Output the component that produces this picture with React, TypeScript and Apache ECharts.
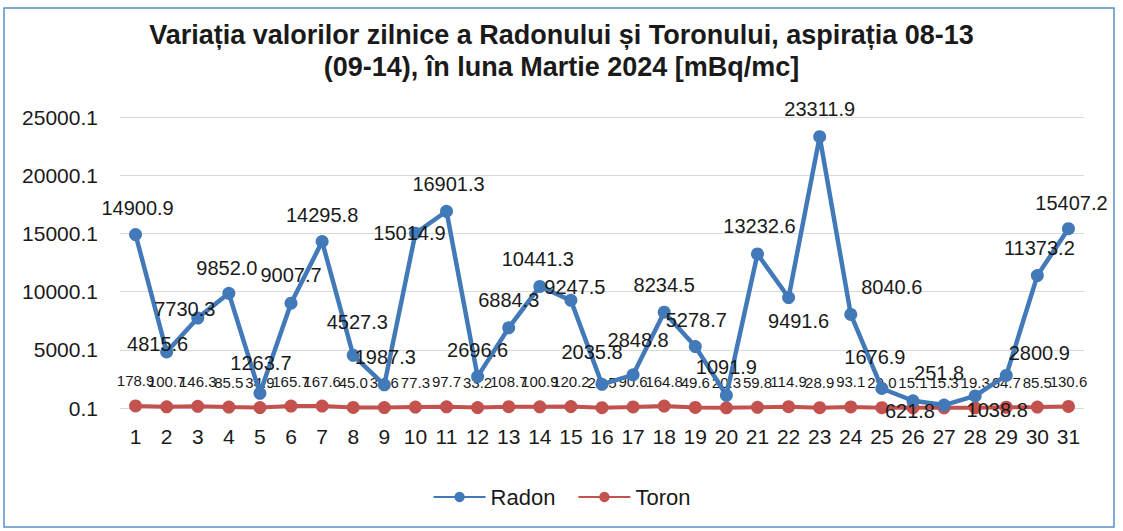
import React, { useEffect, useRef } from "react";
import * as echarts from "echarts";

const days = Array.from({ length: 31 }, (_, i) => String(i + 1));

const radon = [
  14900.9, 4815.6, 7730.3, 9852.0, 1263.7, 9007.7, 14295.8, 4527.3, 1987.3, 15014.9,
  16901.3, 2696.6, 6884.3, 10441.3, 9247.5, 2035.8, 2848.8, 8234.5, 5278.7, 1091.9,
  13232.6, 9491.6, 23311.9, 8040.6, 1676.9, 621.8, 251.8, 1038.8, 2800.9, 11373.2,
  15407.2,
];

const toron = [
  178.9, 100.7, 146.3, 85.5, 34.9, 165.7, 167.6, 45.0, 34.6, 77.3,
  97.7, 33.2, 108.7, 100.9, 120.2, 28.5, 90.6, 164.8, 49.6, 20.3,
  59.8, 114.9, 28.9, 93.1, 29.0, 15.1, 15.3, 19.3, 64.7, 85.5,
  130.6,
];

const yTicks = [0.1, 5000.1, 10000.1, 15000.1, 20000.1, 25000.1];

// label placement (style only): offset of label centre from point, px
const radonLabelOffset: [number, number][] = [
  [2, -27], [-9, -8], [-13, -9], [-2, -25], [1, -30], [0, -28], [0, -27], [4, -33], [1, -28], [-6, 0],
  [2, -27], [0, -27], [0, -28], [-2, -27], [4, -13], [-10, -32], [5, -35], [0, -27], [1, -27], [0, -28],
  [2, -28], [10, 23], [0, -28], [41, -27], [-7, -31], [-3, 10], [-5, -32], [22, 14], [33, -22], [2, -28],
  [3, -26],
];

const FONT = "'Liberation Sans', Arial, sans-serif";
const RADON_C = "#4179b9";
const TORON_C = "#c3514e";

export default function App() {
  const ref = useRef<HTMLDivElement>(null);
  useEffect(() => {
    if (!ref.current) return;
    const chart = echarts.init(ref.current, undefined, { renderer: "svg" });
    chart.setOption({
      animation: false,
      backgroundColor: "#ffffff",
      title: {
        text: "Variația valorilor zilnice a Radonului și Toronului, aspirația 08-13\n(09-14), în luna Martie 2024 [mBq/mc]",
        left: "center",
        top: 14,
        textStyle: {
          fontFamily: FONT,
          fontWeight: "bold",
          fontSize: 27,
          lineHeight: 32,
          color: "#1a1a1a",
        },
      },
      graphic: [
        {
          type: "rect",
          shape: { x: 4, y: 8, width: 1110, height: 519 },
          style: { fill: "none", stroke: "#5b8ec9", lineWidth: 1.5 },
          silent: true,
        },
      ],
      legend: {
        bottom: 18,
        left: "center",
        itemWidth: 52,
        itemHeight: 13,
        itemGap: 22,
        textStyle: { fontFamily: FONT, fontSize: 22, color: "#1a1a1a" },
        data: ["Radon", "Toron"],
      },
      grid: { left: 120, right: 39, top: 117, bottom: 123 },
      xAxis: {
        type: "category",
        data: days,
        boundaryGap: true,
        axisLine: { show: false },
        axisTick: { show: false },
        axisLabel: { fontFamily: FONT, fontSize: 21, color: "#1a1a1a", margin: 18, interval: 0 },
      },
      yAxis: {
        type: "value",
        min: 0,
        max: 25000,
        interval: 5000,
        axisLine: { show: false },
        axisTick: { show: false },
        splitLine: { lineStyle: { color: "#d9d9d9", width: 1 } },
        axisLabel: {
          fontFamily: FONT,
          fontSize: 21,
          color: "#1a1a1a",
          margin: 22,
          formatter: (v: number) => {
            const idx = Math.round(v / 5000);
            return yTicks[idx] !== undefined ? yTicks[idx].toFixed(1) : String(v);
          },
        },
      },
      series: [
        {
          name: "Toron",
          type: "line",
          data: toron,
          symbol: "circle",
          symbolSize: 13,
          itemStyle: { color: TORON_C },
          lineStyle: { color: TORON_C, width: 4 },
          label: {
            show: true,
            position: "inside",
            offset: [0, -25],
            formatter: (p: any) => Number(p.value).toFixed(1),
            fontFamily: FONT,
            fontSize: 15,
            color: "#1a1a1a",
          },
          z: 2,
        },
        {
          name: "Radon",
          type: "line",
          data: radon.map((v, i) => ({
            value: v,
            label: { offset: radonLabelOffset[i] },
          })),
          symbol: "circle",
          symbolSize: 13,
          itemStyle: { color: RADON_C },
          lineStyle: { color: RADON_C, width: 4.5 },
          label: {
            show: true,
            position: "inside",
            formatter: (p: any) => Number(p.value).toFixed(1),
            fontFamily: FONT,
            fontSize: 20,
            color: "#1a1a1a",
          },
          z: 3,
        },
      ],
    });
    return () => chart.dispose();
  }, []);
  return (
    <div
      ref={ref}
      style={{ position: "fixed", left: 0, top: 0, width: 1123, height: 531, background: "#fff" }}
    />
  );
}
